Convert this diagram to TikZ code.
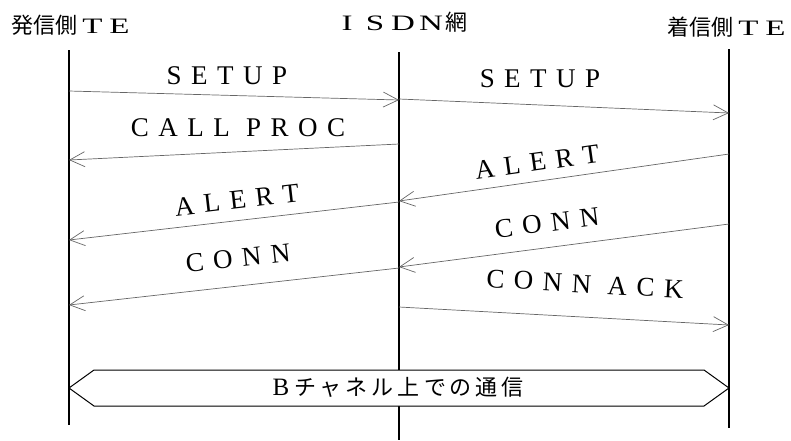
\documentclass[tikz,border=0pt]{standalone}
\usepackage{fontspec}
\usepackage{graphicx}
\setmainfont{Liberation Serif}
\newfontfamily\jp{Noto Sans CJK JP}
\usetikzlibrary{arrows.meta}
\ExplSyntaxOn
\NewDocumentCommand\trk{m}{\tl_map_inline:nn {#1}{##1\hspace{9.5pt}}\unskip}
\NewDocumentCommand\jslots{m}{\tl_map_inline:nn {#1}{\makebox[26pt]{##1}}}
\ExplSyntaxOff
\newcommand\fwl[2][27pt]{\makebox[#1]{\scalebox{1.5}[1]{#2}}}
\newcommand\wsp{\hspace{16.25pt}}
\begin{document}
\begin{tikzpicture}[x=1pt,y=-1pt,
  lifeline/.style={line width=1.5pt,black},
  msg/.style={line width=0.7pt,draw=black!60,-{Straight Barb[length=15pt,width=15pt,line width=0.7pt]}},
  lbl/.style={inner sep=0pt,font=\fontsize{27}{29}\selectfont},
  head/.style={inner sep=0pt,font=\fontsize{22}{25}\selectfont},
  hexbox/.style={draw=black,line width=1pt,fill=white}]
\useasboundingbox (0,0) rectangle (791,440);
% headings
\node[head] (h1) at (72,25) {{\jp 発信側}\hspace{2pt}\fwl{T}\fwl{E}};
\node[head] (h2) at (400,22) {\fwl[28pt]{I}\fwl[28pt]{S}\fwl[28pt]{D}\fwl[28pt]{N}{\jp 網}};
\node[head] (h3) at (728,27) {{\jp 着信側}\hspace{2pt}\fwl{T}\fwl{E}};
% lifelines
\coordinate (Lt) at (69,50);  \coordinate (Lb) at (69,425);
\coordinate (Mt) at (399,52); \coordinate (Mb) at (399,440);
\coordinate (Rt) at (729,49); \coordinate (Rb) at (729,428);
\draw[lifeline] (Lt) -- (Lb);
\draw[lifeline] (Mt) -- (Mb);
\draw[lifeline] (Rt) -- (Rb);
% message end points
\coordinate (a1) at (69,91);   \coordinate (a2) at (399,100);
\coordinate (b1) at (399,99);  \coordinate (b2) at (729,113);
\coordinate (c1) at (399,144); \coordinate (c2) at (69,160);
\coordinate (d1) at (729,154); \coordinate (d2) at (399,201);
\coordinate (e1) at (399,202); \coordinate (e2) at (69,240);
\coordinate (f1) at (729,224); \coordinate (f2) at (399,267);
\coordinate (g1) at (399,268); \coordinate (g2) at (69,305);
\coordinate (k1) at (399,307); \coordinate (k2) at (729,325);
\draw[msg] (a1) -- (a2);
\draw[msg] (b1) -- (b2);
\draw[msg] (c1) -- (c2);
\draw[msg] (d1) -- (d2);
\draw[msg] (e1) -- (e2);
\draw[msg] (f1) -- (f2);
\draw[msg] (g1) -- (g2);
\draw[msg] (k1) -- (k2);
% labels
\node[lbl] (la) at (227,76) {\trk{SETUP}};
\node[lbl] (lb) at (540,79) {\trk{SETUP}};
\node[lbl] (lc) at (238,128) {\trk{CALL}\wsp\trk{PROC}};
\node[lbl,rotate=8] (ld) at (537,162) {\trk{ALERT}};
\node[lbl,rotate=6.6] (le) at (237,200) {\trk{ALERT}};
\node[lbl,rotate=7.4] (lf) at (547,223) {\trk{CONN}};
\node[lbl,rotate=6.4] (lg) at (238,258) {\trk{CONN}};
\node[lbl,rotate=-3.2] (lk) at (585,284) {\trk{CONN}\wsp\trk{ACK}};
% B channel hexagon
\coordinate (x1) at (69,388);  \coordinate (x2) at (94,370);
\coordinate (x3) at (704,370); \coordinate (x4) at (729,388);
\coordinate (x5) at (704,406); \coordinate (x6) at (94,406);
\draw[hexbox] (x1) -- (x2) -- (x3) -- (x4) -- (x5) -- (x6) -- cycle;
\node[inner sep=0pt,font=\fontsize{22}{24}\selectfont] (bt) at (398,387) {\makebox[22pt]{\fontsize{25}{27}\selectfont B}{\jp\jslots{チャネル上での通信}}};
\end{tikzpicture}
\end{document}
